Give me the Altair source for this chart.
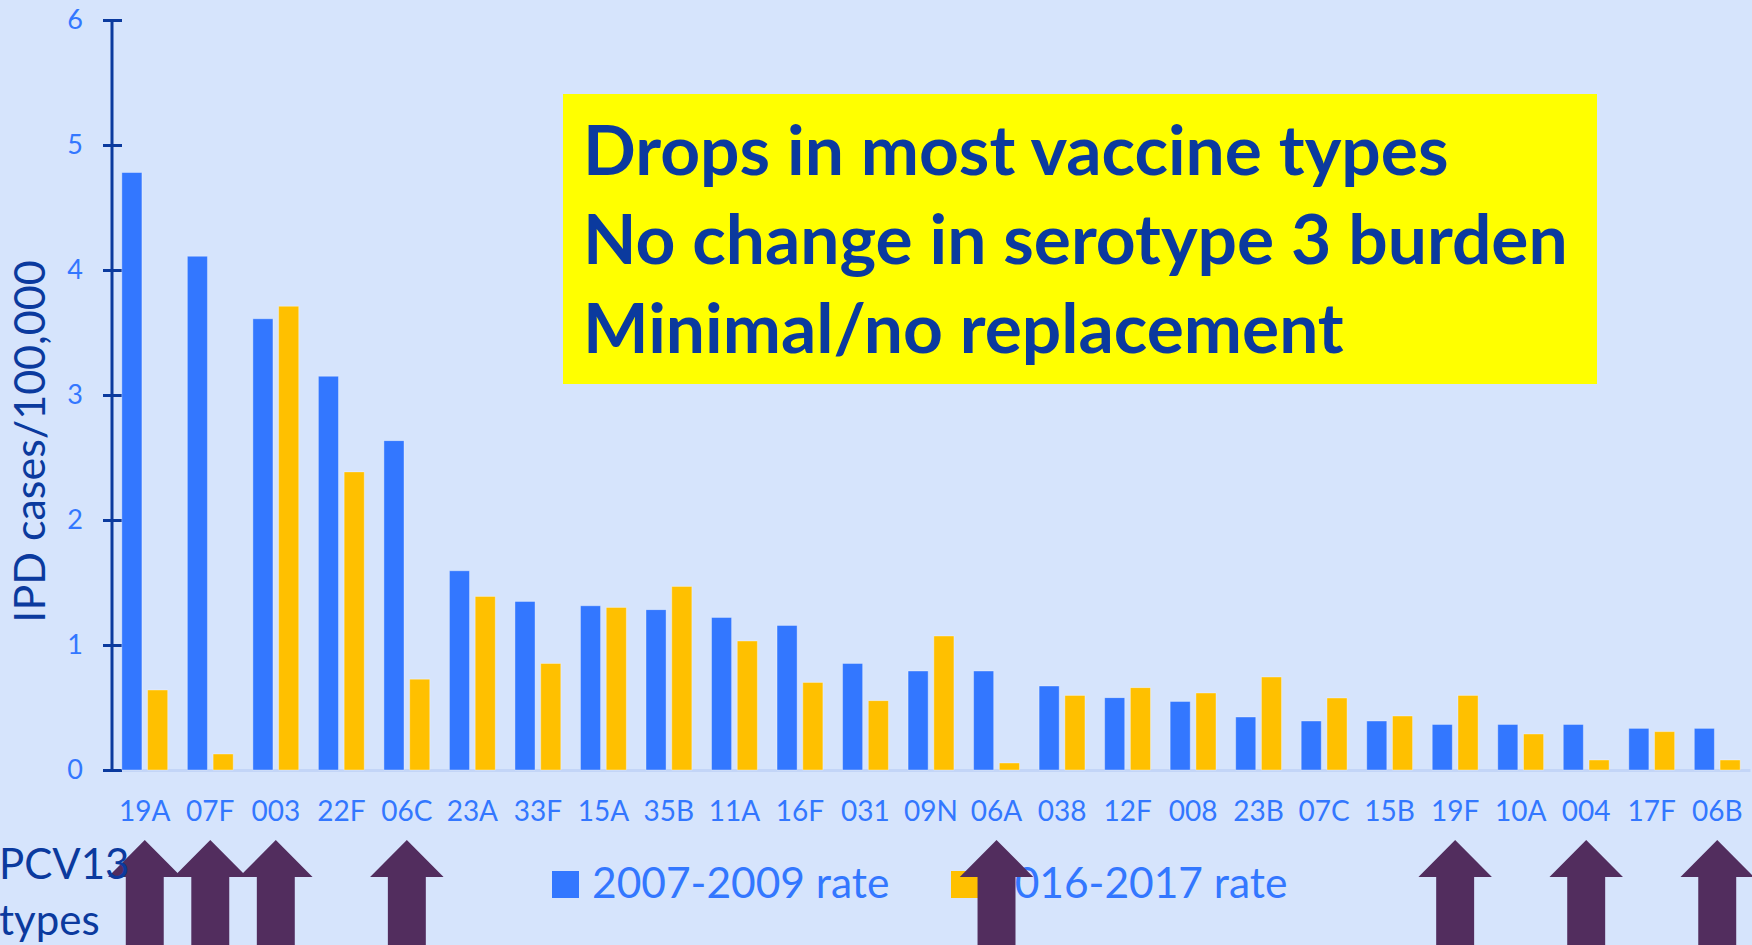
import altair as alt
import pandas as pd

# ---------------- data ----------------
SEROTYPES = ["19A", "07F", "003", "22F", "06C", "23A", "33F", "15A", "35B", "11A",
             "16F", "031", "09N", "06A", "038", "12F", "008", "23B", "07C", "15B",
             "19F", "10A", "004", "17F", "06B"]
RATE_2007_2009 = [4.78, 4.11, 3.61, 3.15, 2.635, 1.594, 1.349, 1.314, 1.283, 1.221,
                  1.157, 0.853, 0.792, 0.792, 0.672, 0.579, 0.549, 0.424, 0.392, 0.392,
                  0.365, 0.365, 0.365, 0.333, 0.333]
RATE_2016_2017 = [0.64, 0.128, 3.71, 2.385, 0.727, 1.389, 0.852, 1.301, 1.469, 1.032,
                  0.701, 0.555, 1.072, 0.056, 0.597, 0.659, 0.616, 0.744, 0.576, 0.432,
                  0.597, 0.288, 0.08, 0.307, 0.08]
PERIODS = ["2007-2009 rate", "2016-2017 rate"]
PCV13_TYPES = ["19A", "07F", "003", "06C", "06A", "19F", "004", "06B"]
Y_TICKS = [0, 1, 2, 3, 4, 5, 6]
Y_TITLE = "IPD cases/100,000"
BOX_LINES = ["Drops in most vaccine types", "No change in serotype 3 burden", "Minimal/no replacement"]
PCV13_LABEL = ["PCV13", "types"]

rows = []
for s, a, b in zip(SEROTYPES, RATE_2007_2009, RATE_2016_2017):
    rows.append({"serotype": s, "period": PERIODS[0], "rate": a})
    rows.append({"serotype": s, "period": PERIODS[1], "rate": b})
df = pd.DataFrame(rows)
one = pd.DataFrame({"k": [0]})

# ---------------- style ----------------
BG = "#D6E4FC"
BLUE = "#3377FF"
ORANGE = "#FFC000"
NAVY = "#0B3A9E"
PURPLE = "#522D5E"
YELLOW = "#FFFF00"
FONT = "Lato"

W, H = 1638, 750
PAD = {"left": 112, "right": 2, "top": 20, "bottom": 175}

x_enc = alt.X(
    "serotype:N", sort=SEROTYPES,
    scale=alt.Scale(domain=SEROTYPES, paddingInner=0.3, paddingOuter=0.15),
    axis=alt.Axis(title=None, labelAngle=0, labelFont=FONT, labelFontSize=28,
                  labelColor=BLUE, labelPadding=28, ticks=False, tickSize=0,
                  domainColor="#C3D5F7", domainWidth=3, grid=False),
)

bars = alt.Chart(df).mark_bar(stroke="white", strokeOpacity=0.35, strokeWidth=1).encode(
    x=x_enc,
    xOffset=alt.XOffset("period:N", sort=PERIODS,
                        scale=alt.Scale(domain=PERIODS, paddingInner=0.22, paddingOuter=0)),
    y=alt.Y("rate:Q", scale=alt.Scale(domain=[0, 6], nice=False, zero=True),
            axis=alt.Axis(title=Y_TITLE, values=Y_TICKS, format="d", offset=-9.5,
                          domain=False, ticks=True, tickSize=19, tickWidth=3,
                          tickColor=NAVY, labelFont=FONT, labelFontSize=27,
                          labelColor=BLUE, labelPadding=20, grid=False,
                          titleFont=FONT, titleFontSize=43, titleFontWeight="normal",
                          titleColor=NAVY, titleAngle=270, titleAlign="center",
                          titleBaseline="middle", titleX=-90.5, titleY=421)),
    color=alt.Color("period:N", scale=alt.Scale(domain=PERIODS, range=[BLUE, ORANGE]),
                    legend=None),
)

yline = alt.Chart(one).mark_rule(color=NAVY, strokeWidth=3).encode(
    x=alt.value(0), y=alt.value(0), y2=alt.value(751.5))

leg_sq1 = alt.Chart(one).mark_square(size=729, opacity=1, color=BLUE).encode(
    x=alt.value(453.5), y=alt.value(864.5))
leg_sq2 = alt.Chart(one).mark_square(size=729, opacity=1, color=ORANGE).encode(
    x=alt.value(852.5), y=alt.value(864.5))
leg_t1 = alt.Chart(one).mark_text(text=PERIODS[0], align="left", baseline="alphabetic",
                                  font=FONT, fontSize=42.5, color=BLUE).encode(
    x=alt.value(480), y=alt.value(878))
leg_t2 = alt.Chart(one).mark_text(text=PERIODS[1], align="left", baseline="alphabetic",
                                  font=FONT, fontSize=42.5, color=BLUE).encode(
    x=alt.value(878), y=alt.value(878))

ARROW = "M0,-1L0.49,-0.507L0.253,-0.507L0.253,1L-0.253,1L-0.253,-0.507L-0.49,-0.507Z"
arrows = alt.Chart(pd.DataFrame({"serotype": PCV13_TYPES})).mark_point(
    shape=ARROW, size=22500, filled=True, opacity=1, color=PURPLE, strokeWidth=0
).encode(x=x_enc, y=alt.value(895))

pcv_text = alt.Chart(one).mark_text(text=PCV13_LABEL, align="left", baseline="alphabetic",
                                    font=FONT, fontSize=42, lineHeight=56, color=NAVY).encode(
    x=alt.value(-113), y=alt.value(859))

box = alt.Chart(one).mark_rect(color=YELLOW, opacity=1).encode(
    x=alt.value(451), x2=alt.value(1485), y=alt.value(74), y2=alt.value(364))
box_text = alt.Chart(one).mark_text(text=BOX_LINES, align="left", baseline="alphabetic",
                                    font=FONT, fontSize=69.5, fontWeight="bold",
                                    lineHeight=89, color=NAVY).encode(
    x=alt.value(471), y=alt.value(155))

chart = alt.layer(
    bars, yline, leg_sq1, leg_sq2, leg_t1, leg_t2, arrows, pcv_text, box, box_text
).properties(
    width=W, height=H, padding=PAD, autosize=alt.AutoSizeParams(type="none")
).configure(background=BG).configure_view(stroke=None)

chart.save("out.html", embed_options={"renderer": "svg", "actions": False})
